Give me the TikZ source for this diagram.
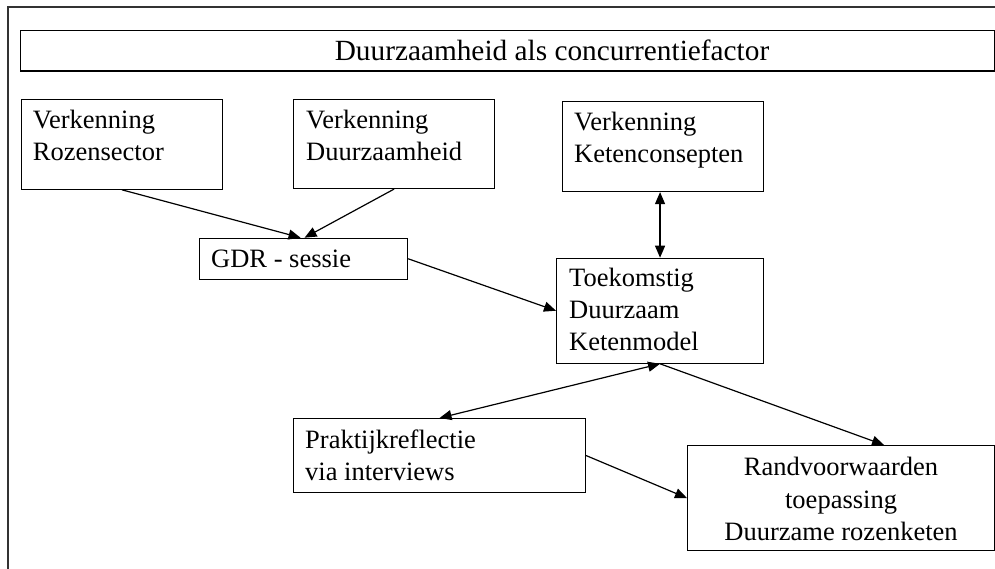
\documentclass[tikz,border=0pt]{standalone}
\usepackage{fontspec}
\setmainfont{Liberation Serif}
\usetikzlibrary{arrows.meta}
\begin{document}
\begin{tikzpicture}[x=1pt,y=-1pt,
  box/.style={draw, line width=1.1pt, inner sep=0, anchor=north west},
  txt/.style={inner sep=0, align=left, anchor=north west, font=\fontsize{26.5}{32}\selectfont},
  ctxt/.style={inner sep=0, align=center, anchor=north, font=\fontsize{26.5}{32.5}\selectfont},
  tip/.style={Triangle[length=12pt,width=10pt]},
  link/.style={line width=1.2pt, -{Triangle[length=12pt,width=10pt]}},
  link2/.style={line width=1.2pt, {Triangle[length=12pt,width=10pt]}-{Triangle[length=12pt,width=10pt]}}]
\useasboundingbox (0,0) rectangle (995,569);
% outer frame, open to the right and below
\draw[line width=1.5pt, black!80] (8,569) -- (8,7) -- (995,7);
% title bar
\node[box, minimum width=974pt, minimum height=40.5pt] (title) at (20,30) {};
\node[inner sep=0, anchor=base, font=\fontsize{29.3}{34}\selectfont] (titletext) at (552,61) {Duurzaamheid als concurrentiefactor};
% boxes
\node[box, minimum width=201.3pt, minimum height=89.7pt] (rs) at (20.7,99) {};
\node[box, minimum width=201pt, minimum height=89pt] (du) at (293,99) {};
\node[box, minimum width=201pt, minimum height=90.3pt] (kc) at (562,100.7) {};
\node[box, minimum width=208pt, minimum height=41pt] (gdr) at (199,237.7) {};
\node[box, minimum width=207pt, minimum height=105pt] (tk) at (556,257.7) {};
\node[box, minimum width=292pt, minimum height=74pt] (pr) at (293,418) {};
\node[box, minimum width=307pt, minimum height=105pt] (rv) at (687,445) {};
% texts
\node[txt] (rs-t) at ([shift={(12,6.9)}]rs.north west) {\strut Verkenning\\Rozensector};
\node[txt] (du-t) at ([shift={(13,6.9)}]du.north west) {\strut Verkenning\\Duurzaamheid};
\node[txt] (kc-t) at ([shift={(12,6.9)}]kc.north west) {\strut Verkenning\\Ketenconsepten};
\node[txt] (gdr-t) at ([shift={(12,7.6)}]gdr.north west) {\strut GDR - sessie};
\node[txt] (tk-t) at ([shift={(13,6.6)}]tk.north west) {\strut Toekomstig\\Duurzaam\\Ketenmodel};
\node[txt] (pr-t) at ([shift={(12,8.3)}]pr.north west) {\strut Praktijkreflectie\\via interviews};
\node[ctxt] (rv-t) at ([shift={(0,7.6)}]rv.north) {\strut Randvoorwaarden\\toepassing\\Duurzame rozenketen};
% connectors
\draw[link] (rs.south) -- ([shift={(-3,0)}]gdr.north);
\draw[link] (du.south) -- ([shift={(1,0)}]gdr.north);
\draw[link] (gdr.east) -- (tk.west);
\draw[link2] (tk.north |- kc.south) -- (tk.north);
\draw[link2] (pr.north) -- (tk.south);
\draw[link] (tk.south) -- ([shift={(43,0)}]rv.north);
\draw[link] (pr.east) -- (rv.west);
\end{tikzpicture}
\end{document}
